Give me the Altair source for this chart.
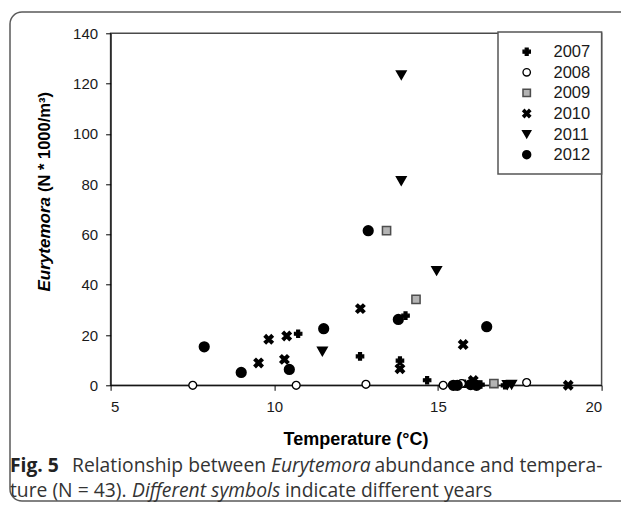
import altair as alt
import pandas as pd

# ---- data ----
years = ["2007", "2008", "2009", "2010", "2011", "2012"]

temp_2007 = [10.73, 12.62, 14.01, 13.84, 14.67, 17.05, 15.80, 16.30]
abun_2007 = [20.5, 11.5, 27.7, 9.8, 2.0, 0.0, 0.6, 0.3]

temp_2008 = [7.51, 10.67, 12.80, 15.16, 15.72, 17.71]
abun_2008 = [0.0, 0.0, 0.4, 0.0, 0.7, 1.1]

temp_2009 = [13.43, 14.33, 16.71]
abun_2009 = [61.5, 34.2, 0.7]

temp_2010 = [9.52, 9.83, 10.38, 10.31, 12.63, 13.84, 15.77, 16.08, 18.98]
abun_2010 = [8.9, 18.3, 19.6, 10.3, 30.5, 6.6, 16.2, 1.9, 0.0]

temp_2011 = [13.88, 13.88, 14.96, 11.47, 17.25, 17.12]
abun_2011 = [123.4, 81.3, 45.6, 13.5, 0.3, 0.2]

temp_2012 = [7.86, 8.99, 10.46, 11.51, 12.87, 13.79, 16.49, 15.47, 15.59, 16.18, 16.00]
abun_2012 = [15.3, 5.1, 6.3, 22.5, 61.5, 26.2, 23.3, 0.0, 0.0, 0.0, 0.3]

x_ticks = [5, 10, 15, 20]
y_ticks = [0, 20, 40, 60, 80, 100, 120, 140]

series = {
    "2007": (temp_2007, abun_2007),
    "2008": (temp_2008, abun_2008),
    "2009": (temp_2009, abun_2009),
    "2010": (temp_2010, abun_2010),
    "2011": (temp_2011, abun_2011),
    "2012": (temp_2012, abun_2012),
}
rows = []
for yr, (ts, ab) in series.items():
    for t, a in zip(ts, ab):
        rows.append({"year": yr, "yr_size": yr, "yr_sw": yr, "temp": t, "abund": a})
df = pd.DataFrame(rows)

# ---- styling ----
X_PATH = "M-1,-0.6L-0.6,-1L0,-0.4L0.6,-1L1,-0.6L0.4,0L1,0.6L0.6,1L0,0.4L-0.6,1L-1,0.6L-0.4,0Z"
shapes = ["cross", "circle", "square", X_PATH, "triangle-down", "circle"]
fills = ["#000000", "#ffffff", "#b4b4b4", "#000000", "#000000", "#000000"]
strokes = ["#000000", "#000000", "#4d4d4d", "#000000", "#000000", "#000000"]
sizes = [55, 85, 62, 110, 75, 92]
stroke_widths = [1.2, 2.0, 1.0, 1.2, 1.0, 1.0]

W, H = 491, 352
OX, OY = 110.6, 33.3  # page position of the plot origin

shape_enc = alt.Shape("year:N", scale=alt.Scale(domain=years, range=shapes), legend=None)
fill_enc = alt.Fill("year:N", scale=alt.Scale(domain=years, range=fills), legend=None)
stroke_enc = alt.Stroke("year:N", scale=alt.Scale(domain=years, range=strokes), legend=None)
sw_enc = alt.StrokeWidth("yr_sw:N", scale=alt.Scale(domain=years, range=stroke_widths),
                         legend=None)

points = alt.Chart(df).mark_point(filled=True, opacity=1).encode(
    x=alt.X("temp:Q", scale=alt.Scale(domain=[5, 20], nice=False, zero=False),
            axis=alt.Axis(values=x_ticks, title=None, grid=False)),
    y=alt.Y("abund:Q", scale=alt.Scale(domain=[0, 140], nice=False),
            axis=alt.Axis(values=y_ticks, title=None, grid=False)),
    shape=shape_enc, fill=fill_enc, stroke=stroke_enc, strokeWidth=sw_enc,
    size=alt.Size("yr_size:N", scale=alt.Scale(domain=years, range=sizes), legend=None),
)

one = alt.Data(values=[{"k": 1}])


def txt(s, px, py, **kw):
    return alt.Chart(one).mark_text(**kw).encode(
        x=alt.value(px - OX), y=alt.value(py - OY), text=alt.value(s)
    )


frame = alt.Chart(one).mark_rect(
    fill="transparent", stroke="#5a5a5a", strokeWidth=1.5, cornerRadius=12
).encode(
    x=alt.value(10 - OX), x2=alt.value(660 - OX),
    y=alt.value(12 - OY), y2=alt.value(501 - OY),
)

legend_box = alt.Chart(one).mark_rect(
    fill="white", stroke="#555555", strokeWidth=1.5
).encode(
    x=alt.value(498 - OX), x2=alt.value(601.6 - OX),
    y=alt.value(32 - OY), y2=alt.value(174 - OY),
)

# legend entries (drawn with the same shape/fill/stroke scales)
AX = "Liberation Sans"
legend_layers = []
for i, yr in enumerate(years):
    row_y = 51.7 + 20.6 * i - OY
    d = alt.Data(values=[{"year": yr, "yr_sw": yr}])
    legend_layers.append(
        alt.Chart(d).mark_point(filled=True, opacity=1, size=55).encode(
            x=alt.value(526.7 - OX), y=alt.value(row_y),
            shape=shape_enc, fill=fill_enc, stroke=stroke_enc, strokeWidth=sw_enc,
        )
    )
    legend_layers.append(
        alt.Chart(d).mark_text(font=AX, fontSize=16.5, align="left", baseline="middle",
                               color="#1a1a1a").encode(
            x=alt.value(553.5 - OX), y=alt.value(row_y + 0.5), text=alt.Text("year:N"),
        )
    )

CAP = "Open Sans"
FS = 19.3
L1, L2 = 466, 491
texts = [
    # x axis title
    txt("Temperature (°C)", 356, 440, font=AX, fontSize=18, fontWeight="bold",
        align="center", baseline="middle", color="#000000"),
    # y axis title (two styles)
    txt("Eurytemora", 45, 197, font=AX, fontSize=17, fontWeight="bold", fontStyle="italic",
        align="right", baseline="middle", angle=270, color="#000000"),
    txt("(N * 1000/m³)", 45, 192, font=AX, fontSize=16.5, fontWeight="bold",
        align="left", baseline="middle", angle=270, color="#000000"),
    # caption line 1
    txt("Fig. 5", 10, L1, font=CAP, fontSize=FS, fontWeight="bold",
        align="left", baseline="middle", color="#222222"),
    txt("Relationship between", 72, L1, font=CAP, fontSize=FS,
        align="left", baseline="middle", color="#333333"),
    txt("Eurytemora", 271, L1, font=CAP, fontSize=FS, fontStyle="italic",
        align="left", baseline="middle", color="#333333"),
    txt("abundance and tempera-", 374.5, L1, font=CAP, fontSize=FS,
        align="left", baseline="middle", color="#333333"),
    # caption line 2
    txt("ture (N = 43).", 10, L2, font=CAP, fontSize=FS,
        align="left", baseline="middle", color="#333333"),
    txt("Different symbols", 132, L2, font=CAP, fontSize=FS, fontStyle="italic",
        align="left", baseline="middle", color="#333333"),
    txt("indicate different years", 285, L2, font=CAP, fontSize=FS,
        align="left", baseline="middle", color="#333333"),
]

chart = alt.layer(frame, legend_box, points, *legend_layers, *texts).properties(
    width=W, height=H,
    autosize=alt.AutoSizeParams(type="none"),
    padding={"left": OX - 8, "top": OY - 8, "right": 613 - (OX - 8) - W,
             "bottom": 494 - (OY - 8) - H},
    background="white",
).configure_view(
    stroke="#4a4a4a", strokeWidth=1.5
).configure_axis(
    labelFont=AX, labelFontSize=15, labelColor="#1a1a1a",
    domainColor="#000000", domainWidth=1, tickColor="#000000", tickSize=5,
    tickWidth=1,
).configure_axisX(labelPadding=9).configure_axisY(labelPadding=8)

chart.save("out.html", embed_options={"renderer": "svg", "actions": False})
